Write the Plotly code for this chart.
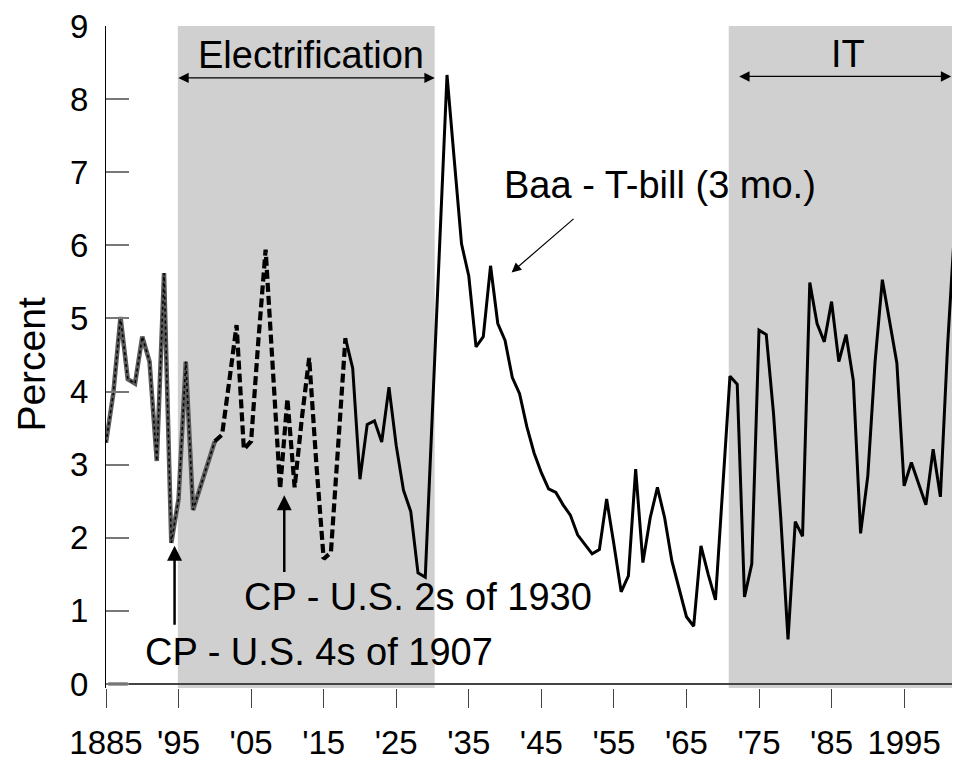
import plotly.graph_objects as go

# ── Data ───────────────────────────────────────────────────────────────────────
years_4s = list(range(1885, 1901))
spread_4s = [3.30, 3.97, 5.02, 4.17, 4.11, 4.75, 4.41, 3.05, 5.62, 1.93,
             2.53, 4.41, 2.38, 2.70, 3.02, 3.32]

years_2s = list(range(1900, 1919))
spread_2s = [3.32, 3.41, 4.15, 4.91, 3.21, 3.32, 4.70, 5.94, 4.30, 2.67,
             3.90, 2.69, 3.64, 4.46, 3.00, 1.71, 1.80, 3.30, 4.73]

years_baa = list(range(1918, 2003))
spread_baa = [4.73, 4.32, 2.80, 3.55, 3.60, 3.31, 4.06, 3.26, 2.65, 2.36,
              1.52, 1.46, 3.75, 6.04, 8.33, 7.17, 6.02, 5.58, 4.61, 4.75,
              5.72, 4.93, 4.70, 4.19, 3.97, 3.52, 3.16, 2.89, 2.67, 2.62,
              2.45, 2.31, 2.04, 1.91, 1.78, 1.84, 2.53, 1.91, 1.26, 1.48,
              2.94, 1.66, 2.27, 2.69, 2.27, 1.68, 1.30, 0.92, 0.79, 1.89,
              1.50, 1.15, 2.68, 4.21, 4.10, 1.19, 1.64, 4.84, 4.78, 3.70,
              2.27, 0.61, 2.22, 2.02, 5.49, 4.93, 4.68, 5.23, 4.41, 4.78,
              4.15, 2.06, 2.85, 4.41, 5.53, 4.95, 4.39, 2.71, 3.03, 2.74,
              2.45, 3.21, 2.56, 4.64, 6.30]

zero_years = [1885.3, 1888.0]
zero_vals = [0, 0]

tick_years = list(range(1885, 2000, 10))
tick_text = ["1885", "'95", "'05", "'15", "'25", "'35", "'45", "'55",
             "'65", "'75", "'85", "1995"]

FONT = "Arial, 'Liberation Sans', sans-serif"
X_END = 2001.6

# ── Figure ─────────────────────────────────────────────────────────────────────
fig = go.Figure()

fig.add_trace(go.Scatter(x=zero_years, y=zero_vals, mode="lines",
                         line=dict(color="#444444", width=3), hoverinfo="skip"))
fig.add_trace(go.Scatter(x=years_4s, y=spread_4s, mode="lines",
                         line=dict(color="#5a5a5a", width=4.5)))
fig.add_trace(go.Scatter(x=years_4s, y=spread_4s, mode="lines",
                         line=dict(color="black", width=1.5, dash="dot")))
fig.add_trace(go.Scatter(x=years_2s, y=spread_2s, mode="lines",
                         line=dict(color="black", width=4.2, dash="9px,4px")))
fig.add_trace(go.Scatter(x=years_baa, y=spread_baa, mode="lines",
                         line=dict(color="black", width=3)))

# shaded GPT eras
for x0, x1 in [(1894.9, 1930.3), (1970.83, 2003)]:
    fig.add_shape(type="rect", xref="x", yref="y", x0=x0, x1=x1,
                  y0=-0.055, y1=9, fillcolor="#d0d0d0",
                  line=dict(width=0), layer="below")

ann = []
txt = dict(showarrow=False, font=dict(size=38, color="black", family=FONT))
ann.append(dict(text="Electrification", x=1913.3, y=8.61, **txt))
ann.append(dict(text="IT", x=1987.3, y=8.62, **txt))
ann.append(dict(text="Baa - T-bill (3 mo.)", x=1961.3, y=6.83, **txt))
ann.append(dict(text="CP - U.S. 2s of 1930", x=1928.0, y=1.19, **txt))
ann.append(dict(text="CP - U.S. 4s of 1907", x=1914.3, y=0.44, **txt))

arr = dict(text="", showarrow=True, axref="x", ayref="y", standoff=0,
           arrowcolor="black")
# double arrows over the eras
ann.append(dict(x=1930.31, y=8.29, ax=1894.76, ay=8.29, arrowside="end+start",
                arrowhead=2, startarrowhead=2, arrowwidth=1.3, arrowsize=1.6,
                startarrowsize=1.6, **arr))
ann.append(dict(x=X_END - 0.1, y=8.31, ax=1972.06, ay=8.31, arrowside="end+start",
                arrowhead=2, startarrowhead=2, arrowwidth=1.3, arrowsize=1.6,
                startarrowsize=1.6, **arr))
# pointers
ann.append(dict(x=1940.9, y=5.63, ax=1949.65, ay=6.38, arrowhead=2,
                arrowwidth=1.2, arrowsize=1.6, **arr))
ann.append(dict(x=1894.45, y=1.89, ax=1894.45, ay=0.79, arrowhead=2,
                arrowwidth=2.5, arrowsize=1.2, **arr))
ann.append(dict(x=1909.57, y=2.58, ax=1909.57, ay=1.51, arrowhead=2,
                arrowwidth=2.5, arrowsize=1.2, **arr))

ann.append(dict(text="Percent", xref="paper", yref="paper", x=-0.0875, y=0.49,
                xanchor="center", yanchor="middle",
                textangle=-90, showarrow=False,
                font=dict(size=39, color="black", family=FONT)))

# page body adds 8px around the figure, so the figure is 16px smaller
fig.update_layout(
    width=944, height=753,
    margin=dict(l=98, r=0, t=17, b=61.5),
    paper_bgcolor="white", plot_bgcolor="white",
    showlegend=False,
    font=dict(family=FONT, color="black"),
    annotations=ann,
    xaxis=dict(
        range=[1885, X_END], tickvals=tick_years, ticktext=tick_text,
        ticks="outside", ticklen=19, tickwidth=1.3, tickcolor="#444444",
        showline=False, showgrid=False, zeroline=False,
        tickfont=dict(size=33, family=FONT), ticklabelstandoff=6,
    ),
    yaxis=dict(
        range=[-0.055, 9], tickvals=list(range(10)),
        ticks="inside", ticklen=23, tickwidth=1.5, tickcolor="#777777",
        showline=True, linecolor="black", linewidth=1.3,
        showgrid=False, zeroline=True, zerolinecolor="#444444", zerolinewidth=2,
        tickfont=dict(size=33, family=FONT), ticklabelstandoff=10,
        ticklabeloverflow="allow",
    ),
)

fig.write_html("out.html")
